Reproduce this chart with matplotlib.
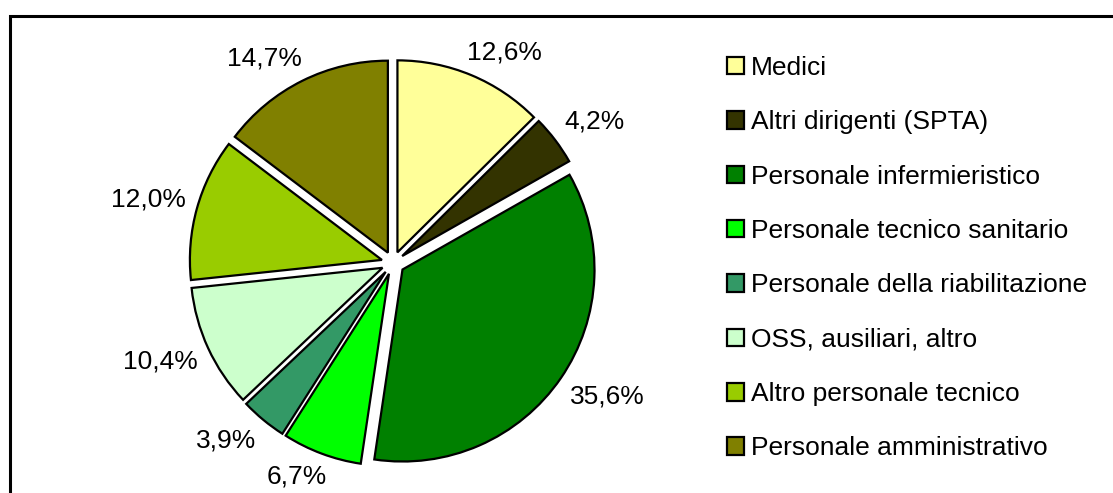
import matplotlib.pyplot as plt
import numpy as np
from matplotlib.patches import Rectangle

plt.rcParams['font.family'] = ['Liberation Sans', 'DejaVu Sans']

categories = ["Medici", "Altri dirigenti (SPTA)", "Personale infermieristico",
              "Personale tecnico sanitario", "Personale della riabilitazione",
              "OSS, ausiliari, altro", "Altro personale tecnico",
              "Personale amministrativo"]
shares = [12.6, 4.2, 35.6, 6.7, 3.9, 10.4, 12.0, 14.7]
colors = ["#FFFF99", "#333300", "#008000", "#00FF00", "#339966",
          "#CCFFCC", "#99CC00", "#808000"]

W, H = 1113, 493
fig = plt.figure(figsize=(W / 100, H / 100), dpi=100)

# square axes so that radius 1 is ~192 px, centred on the pie
R_px = 192
side = 3 * R_px
cx, cy = 393, H - 263
ax = fig.add_axes([(cx - side / 2) / W, (cy - side / 2) / H, side / W, side / H])

wedges, _ = ax.pie(shares, colors=colors, startangle=90, counterclock=False,
                   explode=[0.06] * len(shares),
                   wedgeprops=dict(edgecolor='black', linewidth=1.6))
ax.set_xlim(-1.5, 1.5)
ax.set_ylim(-1.5, 1.5)
ax.set_aspect('equal')
ax.axis('off')

# percentage labels: box pushed outward from a point on the slice bisector
renderer = fig.canvas.get_renderer()
for w, v in zip(wedges, shares):
    ang = np.deg2rad((w.theta1 + w.theta2) / 2)
    ux, uy = np.cos(ang), np.sin(ang)
    d = 1.12
    t = ax.annotate(f"{v:.1f}%".replace('.', ','), xy=(d * ux, d * uy),
                    xytext=(0, 0), textcoords='offset pixels',
                    ha='center', va='center', fontsize=19,
                    annotation_clip=False)
    bb = t.get_window_extent(renderer)
    fx = np.clip(ux * 2.0, -1, 1)
    fy = np.clip(uy * 1.8, -1, 1)
    t.set_position((bb.width / 2 * fx, bb.height / 2 * fy))

leg = fig.legend(wedges, categories, loc='upper left',
                 bbox_to_anchor=(727 / W, 1 - 56 / H), frameon=False,
                 fontsize=19, handlelength=0.64, handleheight=0.64,
                 handletextpad=0.27, labelspacing=1.15, borderpad=0,
                 borderaxespad=0)

# chart border (top and left visible)
fig.patches.append(Rectangle((9.5 / W, -0.2), 1.5, (H - 15.5) / H + 0.2,
                             transform=fig.transFigure, fill=False,
                             edgecolor='black', linewidth=2.2))

fig.savefig("out.png", dpi=100)
